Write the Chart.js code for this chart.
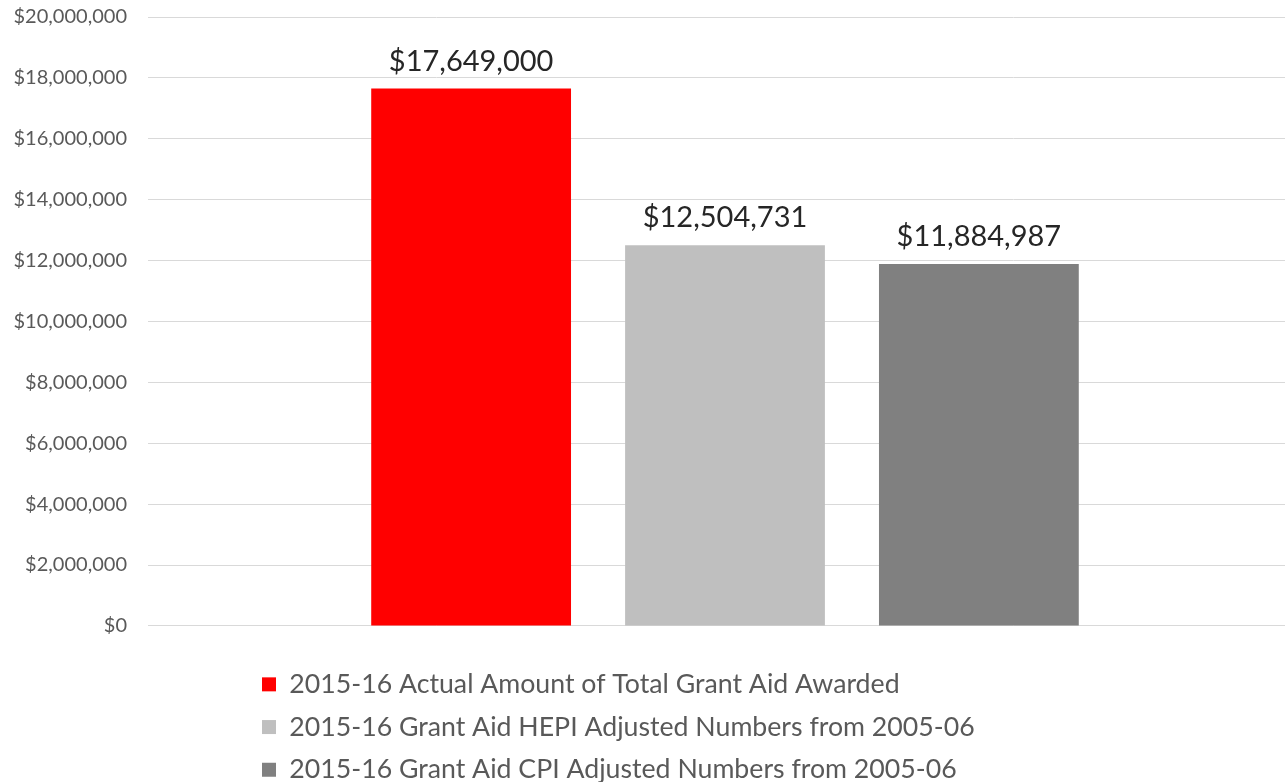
<!DOCTYPE html>
<html>
<head>
<meta charset="utf-8">
<title>Grant Aid 2015-16</title>
<script src="https://cdn.jsdelivr.net/npm/chart.js@4/dist/chart.umd.min.js"></script>
<style>
  html, body { margin: 0; padding: 0; background: #fff; overflow: hidden; }
  #wrap { width: 1302px; height: 782px; }
</style>
</head>
<body>
<div id="wrap"><canvas id="grantChart" width="1302" height="782"></canvas></div>
<script>
// single category, one bar per series
const categories = [''];
const seriesNames = [
    '2015-16 Actual Amount of Total Grant Aid Awarded',
    '2015-16 Grant Aid HEPI Adjusted Numbers from 2005-06',
    '2015-16 Grant Aid CPI Adjusted Numbers from 2005-06'
];
const seriesValues = [17649000, 12504731, 11884987];
const seriesColors = ['#ff0000', '#bfbfbf', '#808080'];
const yTicks = [0, 2000000, 4000000, 6000000, 8000000, 10000000, 12000000, 14000000, 16000000, 18000000, 20000000];

const FONT = 'Lato, "Open Sans", sans-serif';

function money(v) {
    return '$' + Number(v).toLocaleString('en-US');
}

// value labels above each bar
const barLabels = {
    id: 'barLabels',
    afterDatasetsDraw(chart) {
        const ctx = chart.ctx;
        ctx.save();
        ctx.font = '29px ' + FONT;
        ctx.fillStyle = '#262626';
        ctx.textAlign = 'center';
        ctx.textBaseline = 'alphabetic';
        chart.data.datasets.forEach((ds, i) => {
            const bar = chart.getDatasetMeta(i).data[0];
            ctx.fillText(money(ds.data[0]), bar.x, bar.y - 18);
        });
        ctx.restore();
    }
};

// legend rows sit indented and a little lower than the default box
const legendShift = {
    id: 'legendShift',
    afterLayout(chart) {
        const lg = chart.legend;
        lg.left = 246;
        lg.top = 655;
        lg.bottom = chart.height;
    }
};

const datasets = seriesNames.map((name, i) => ({
    label: name,
    data: [seriesValues[i]],
    backgroundColor: seriesColors[i],
    borderWidth: 0,
    categoryPercentage: 0.66,
    barPercentage: 0.787
}));

new Chart(document.getElementById('grantChart'), {
    type: 'bar',
    data: { labels: categories, datasets: datasets },
    options: {
        responsive: false,
        animation: false,
        layout: { padding: { top: 17, bottom: 18 } },
        scales: {
            x: { display: false },
            y: {
                min: 0,
                max: 20000000,
                afterBuildTicks(scale) {
                    scale.ticks = yTicks.map(v => ({ value: v }));
                },
                afterFit(scale) {
                    scale.width = 148;
                },
                border: { display: false },
                grid: { color: '#d9d9d9', lineWidth: 1, tickLength: 18, tickColor: 'rgba(0,0,0,0)' },
                ticks: {
                    padding: 3,
                    color: '#595959',
                    font: { family: FONT, size: 20 },
                    callback: v => money(v)
                }
            }
        },
        plugins: {
            tooltip: { enabled: false },
            legend: {
                position: 'bottom',
                align: 'start',
                labels: {
                    boxWidth: 14,
                    boxHeight: 14,
                    padding: 16,
                    color: '#595959',
                    font: { family: FONT, size: 26.7 }
                }
            }
        }
    },
    plugins: [barLabels, legendShift]
});
</script>
</body>
</html>
